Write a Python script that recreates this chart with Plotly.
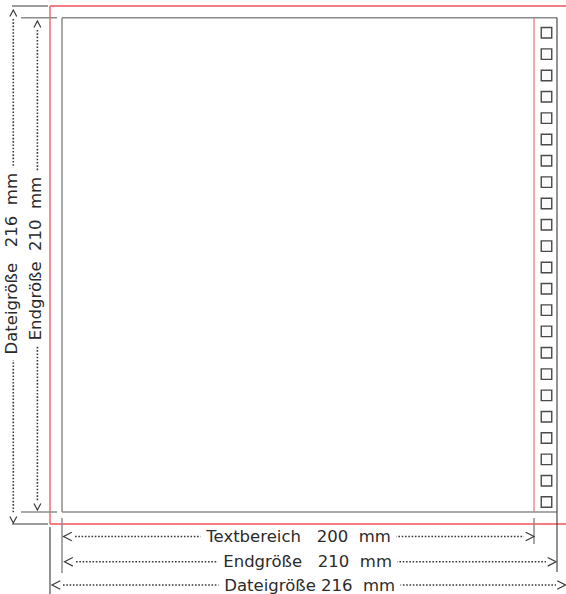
import plotly.graph_objects as go

# ---------------- content ----------------
labels = ["Textbereich", "Endgröße", "Dateigröße"]
sizes_mm = [200, 210, 216]
unit = "mm"
n_boxes = 23

# ---------------- layout constants (pixel frame) ----------------
W, H = 566, 594
# Dateigröße (file size) frame
OX0, OY0, OX1, OY1 = 50, 6, 566, 524
# Endgröße (final size) frame
IX0, IY0, IX1, IY1 = 62, 17.7, 557, 512
# Textbereich right edge
TX1 = 534

RED = "#ef5258"
PINK = "#f28c8f"
GRAY = "#8c8c8c"
DARK = "#3a3a3a"
TXT = "#2b2b2b"
FONT = "DejaVu Sans"
FS = 16.5

shapes = []


def seg(x0, y0, x1, y1, color, width=1.3, dash=None):
    line = dict(color=color, width=width)
    if dash:
        line["dash"] = dash
    shapes.append(dict(type="line", xref="x", yref="y", x0=x0, y0=y0,
                       x1=x1, y1=y1, line=line, layer="above"))


def chevron(x, y, direction, size=4.3, depth=8.3):
    if direction == "<":
        p = f"M{x+depth},{y-size} L{x},{y} L{x+depth},{y+size}"
    elif direction == ">":
        p = f"M{x-depth},{y-size} L{x},{y} L{x-depth},{y+size}"
    elif direction == "^":
        p = f"M{x-size*0.8},{y+depth*0.78} L{x},{y} L{x+size*0.8},{y+depth*0.78}"
    else:
        p = f"M{x-size*0.8},{y-depth*0.78} L{x},{y} L{x+size*0.8},{y-depth*0.78}"
    shapes.append(dict(type="path", xref="x", yref="y", path=p,
                       line=dict(color=DARK, width=1.2), layer="above"))


DOT = "1.6px,1.7px"

# red file-size frame
seg(OX0, OY0, OX1, OY0, RED)
seg(OX0, OY0, OX0, OY1, RED)
seg(OX0, OY1, OX1, OY1, RED)
# text area right edge
seg(TX1, IY0, TX1, IY1, PINK, 1.5)
# final size frame
seg(IX0, IY0, IX1, IY0, GRAY, 1.5)
seg(IX0, IY0, IX0, IY1, GRAY, 1.5)
seg(IX0, IY1, IX1, IY1, GRAY, 1.5)
seg(IX1, IY0, IX1, 572, DARK, 1.1)
# extension lines
seg(12, OY0, 48, OY0, DARK, 1.1)
seg(21, IY0, 57, IY0, GRAY, 1.5)
seg(21, IY1, 57, IY1, GRAY, 1.5)
seg(12, OY1, 48, OY1, DARK, 1.1)
seg(IX0, 518, IX0, 573, GRAY, 1.5)
seg(OX0, 527, OX0, 594, DARK, 1.1)
seg(TX1, 518, TX1, 544, GRAY, 1.5)

# dimension lines: vertical
vx = [13.3, 37.4]
seg(vx[0], 19, vx[0], 514, DARK, 1.6, DOT)
seg(vx[1], 30, vx[1], 501, DARK, 1.6, DOT)
chevron(vx[0], 10, "^")
chevron(vx[0], 523, "v")
chevron(vx[1], 21, "^")
chevron(vx[1], 510, "v")

# dimension lines: horizontal
hy = [536.5, 561.8, 585]
seg(75, hy[0], 524, hy[0], DARK, 1.6, DOT)
seg(76, hy[1], 546, hy[1], DARK, 1.6, DOT)
seg(63, hy[2], 556, hy[2], DARK, 1.6, DOT)
chevron(63.5, hy[0], "<")
chevron(534, hy[0], ">")
chevron(64.5, hy[1], "<")
chevron(556, hy[1], ">")
chevron(52, hy[2], "<")
chevron(565.5, hy[2], ">")

NB = "\u00a0"


def label(i, gap1, gap2):
    return NB + labels[i] + NB * gap1 + str(sizes_mm[i]) + NB * gap2 + unit + NB


annotations = []
h_text = [label(0, 3, 2), label(1, 3, 2), label(2, 1, 2)]
h_cx = [298.7, 307.5, 309]
for t, cx, cy in zip(h_text, h_cx, hy):
    annotations.append(dict(x=cx, y=cy, xref="x", yref="y", text=t,
                            showarrow=False, xanchor="center", yanchor="middle",
                            bgcolor="white", borderpad=0,
                            font=dict(family=FONT, size=FS, color=TXT)))

v_text = [label(2, 3, 2), label(1, 2, 2)]
v_cx = [11.3, 35.2]
v_cy = [263.4, 258.4]
for t, cx, cy in zip(v_text, v_cx, v_cy):
    annotations.append(dict(x=cx, y=cy, xref="x", yref="y", text=t,
                            showarrow=False, textangle=-90,
                            xanchor="center", yanchor="middle",
                            bgcolor="white", borderpad=0,
                            font=dict(family=FONT, size=FS, color=TXT)))

# punch-hole boxes in the margin strip
box_y0, box_step = 32.8, 21.33
box_x = [546.5] * n_boxes
box_y = [box_y0 + i * box_step for i in range(n_boxes)]

fig = go.Figure()
fig.add_trace(go.Scatter(x=box_x, y=box_y, mode="markers",
                         marker=dict(symbol="square", size=10.5,
                                     color="#fbfbfb",
                                     line=dict(color="#4a4a4a", width=1.4)),
                         hoverinfo="skip", cliponaxis=False))

fig.update_layout(
    width=W, height=H,
    margin=dict(l=0, r=0, t=0, b=0),
    paper_bgcolor="white", plot_bgcolor="white",
    showlegend=False,
    shapes=shapes,
    annotations=annotations,
    xaxis=dict(range=[0, W], visible=False, fixedrange=True),
    yaxis=dict(range=[H, 0], visible=False, fixedrange=True),
)

fig.write_html(
    "out.html",
    config={"displayModeBar": False},
    post_script="document.body.style.margin='0';document.body.style.overflow='hidden';",
)
